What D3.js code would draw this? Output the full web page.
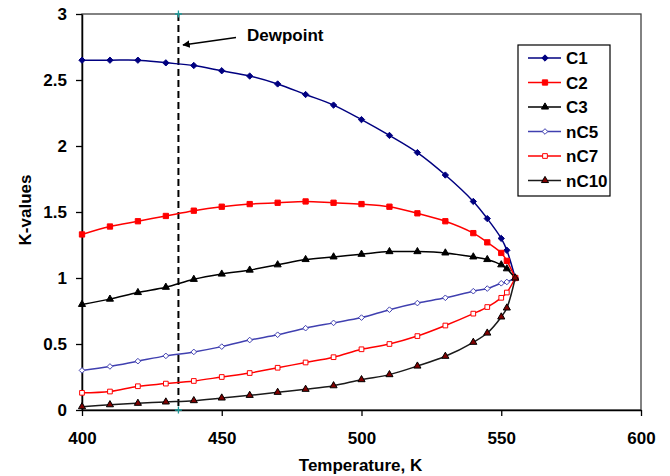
<!DOCTYPE html>
<html>
<head>
  <meta charset="utf-8">
  <title>K-values vs Temperature</title>
  <script src="https://d3js.org/d3.v7.min.js"></script>
  <style>
    body { margin: 0; background: #fff; }
    text { font-family: "Liberation Sans", Arial, sans-serif; font-weight: bold; font-size: 17px; fill: #000; }
  </style>
</head>
<body>
  <script>
    // data
    const temps = [400, 410, 420, 430, 440, 450, 460, 470, 480, 490, 500, 510, 520, 530, 540, 545, 550, 552, 555];
    const c1   = [2.65, 2.65, 2.65, 2.63, 2.61, 2.57, 2.53, 2.47, 2.39, 2.31, 2.20, 2.08, 1.95, 1.78, 1.58, 1.45, 1.30, 1.21, 1.00];
    const c2   = [1.33, 1.39, 1.43, 1.47, 1.51, 1.54, 1.56, 1.57, 1.58, 1.57, 1.56, 1.54, 1.49, 1.43, 1.34, 1.27, 1.19, 1.13, 1.00];
    const c3   = [0.80, 0.84, 0.89, 0.93, 0.99, 1.03, 1.06, 1.10, 1.14, 1.16, 1.18, 1.20, 1.20, 1.19, 1.16, 1.14, 1.10, 1.07, 1.00];
    const nc5  = [0.30, 0.33, 0.37, 0.41, 0.44, 0.48, 0.53, 0.57, 0.62, 0.66, 0.70, 0.76, 0.81, 0.85, 0.90, 0.92, 0.96, 0.97, 1.00];
    const nc7  = [0.13, 0.14, 0.18, 0.20, 0.22, 0.25, 0.28, 0.32, 0.36, 0.40, 0.46, 0.50, 0.56, 0.64, 0.73, 0.78, 0.85, 0.89, 1.00];
    const nc10 = [0.025, 0.04, 0.051, 0.061, 0.071, 0.091, 0.111, 0.134, 0.157, 0.184, 0.23, 0.268, 0.333, 0.407, 0.513, 0.583, 0.705, 0.773, 1.00];
    const seriesNames = ["C1", "C2", "C3", "nC5", "nC7", "nC10"];
    const xTicks = [400, 450, 500, 550, 600];
    const yTicks = [0, 0.5, 1, 1.5, 2, 2.5, 3];
    const dewpointT = 434.5;

    const W = 670, H = 476;
    const plot = {left: 82, right: 641, top: 14, bottom: 410};

    const svg = d3.select("body").append("svg")
      .attr("width", W).attr("height", H);

    const x = d3.scaleLinear().domain([400, 600]).range([plot.left, plot.right]);
    const y = d3.scaleLinear().domain([0, 3]).range([plot.bottom, plot.top]);

    // excel-like square diamond
    const diamond = {
      draw(ctx, size) {
        const r = Math.sqrt(size / 2);
        ctx.moveTo(0, -r); ctx.lineTo(r, 0); ctx.lineTo(0, r); ctx.lineTo(-r, 0); ctx.closePath();
      }
    };

    const styles = {
      C1:   {vals: c1,   line: "#000080", sym: diamond,            size: 20, fill: "#000080", stroke: "#000080"},
      C2:   {vals: c2,   line: "#ff0000", sym: d3.symbolSquare,   size: 28, fill: "#ff0000", stroke: "#ff0000"},
      C3:   {vals: c3,   line: "#000000", sym: d3.symbolTriangle, size: 22, fill: "#000000", stroke: "#000000"},
      nC5:  {vals: nc5,  line: "#4040b0", sym: diamond,            size: 16, fill: "#ffffff", stroke: "#4040b0"},
      nC7:  {vals: nc7,  line: "#ff0000", sym: d3.symbolSquare,   size: 22, fill: "#ffffff", stroke: "#ff0000"},
      nC10: {vals: nc10, line: "#1a1a1a", sym: d3.symbolTriangle, size: 22, fill: "#800000", stroke: "#000000"}
    };

    // frame
    svg.append("rect")
      .attr("x", plot.left).attr("y", plot.top)
      .attr("width", plot.right - plot.left).attr("height", plot.bottom - plot.top)
      .attr("fill", "none").attr("stroke", "#404040").attr("stroke-width", 1.3);

    // axes
    const xAxis = svg.append("g")
      .attr("transform", `translate(0,${plot.bottom})`)
      .call(d3.axisBottom(x).tickValues(xTicks).tickSize(6).tickSizeOuter(0).tickFormat(d3.format("d")));
    xAxis.select(".domain").attr("stroke", "#000").attr("stroke-width", 1.5);
    xAxis.selectAll(".tick line").attr("stroke", "#000").attr("stroke-width", 1.3);
    xAxis.selectAll(".tick text").attr("y", 22).attr("dy", "0.71em").attr("font-size", null).attr("font-family", null);

    const yAxis = svg.append("g")
      .attr("transform", `translate(${plot.left},0)`)
      .call(d3.axisLeft(y).tickValues(yTicks).tickSize(6).tickSizeOuter(0).tickFormat(d => d));
    yAxis.select(".domain").attr("stroke", "#000").attr("stroke-width", 1.5);
    yAxis.selectAll(".tick line").attr("stroke", "#000").attr("stroke-width", 1.3);
    yAxis.selectAll(".tick text").attr("x", -15).attr("font-size", null).attr("font-family", null);

    // dewpoint
    svg.append("line")
      .attr("x1", x(dewpointT)).attr("x2", x(dewpointT))
      .attr("y1", plot.top).attr("y2", plot.bottom)
      .attr("stroke", "#000").attr("stroke-width", 2).attr("stroke-dasharray", "7,4");
    [plot.top, plot.bottom].forEach(py => {
      svg.append("path")
        .attr("transform", `translate(${x(dewpointT)},${py})`)
        .attr("d", d3.symbol(d3.symbolCross, 0)())
        .attr("d", `M-3.5,0H3.5M0,-3.5V3.5`)
        .attr("stroke", "#1a9a9a").attr("stroke-width", 1.3).attr("fill", "none");
    });

    svg.append("defs").append("marker")
      .attr("id", "arrow").attr("viewBox", "0 0 10 10")
      .attr("refX", 9).attr("refY", 5)
      .attr("markerWidth", 5).attr("markerHeight", 5)
      .attr("orient", "auto")
      .append("path").attr("d", "M0,0L10,5L0,10z").attr("fill", "#000");

    svg.append("line")
      .attr("x1", 236).attr("y1", 37.5).attr("x2", 183).attr("y2", 45)
      .attr("stroke", "#000").attr("stroke-width", 1.5)
      .attr("marker-end", "url(#arrow)");
    svg.append("text").attr("x", 247).attr("y", 41).text("Dewpoint");

    // series
    const line = d3.line()
      .x((d, i) => x(temps[i]))
      .y(d => y(d))
      .curve(d3.curveCatmullRom.alpha(0.5));

    seriesNames.forEach(name => {
      const s = styles[name];
      const g = svg.append("g");
      g.append("path")
        .attr("d", line(s.vals))
        .attr("fill", "none").attr("stroke", s.line).attr("stroke-width", 1.5);
      g.selectAll("path.pt")
        .data(s.vals)
        .join("path")
        .attr("class", "pt")
        .attr("transform", (d, i) => `translate(${x(temps[i])},${y(d)})`)
        .attr("d", d3.symbol(s.sym, s.size)())
        .attr("fill", s.fill).attr("stroke", s.stroke).attr("stroke-width", 1);
    });

    // axis titles
    svg.append("text")
      .attr("x", (plot.left + plot.right) / 2 - 1).attr("y", 471)
      .attr("text-anchor", "middle")
      .text("Temperature, K");
    svg.append("text")
      .attr("transform", `translate(31,${(plot.top + plot.bottom) / 2 - 2}) rotate(-90)`)
      .attr("text-anchor", "middle")
      .text("K-values");

    // legend
    const legend = svg.append("g");
    legend.append("rect")
      .attr("x", 518).attr("y", 45).attr("width", 92).attr("height", 151)
      .attr("fill", "#fff").attr("stroke", "#000").attr("stroke-width", 1.2);
    seriesNames.forEach((name, i) => {
      const s = styles[name];
      const ly = 58 + i * 24.5;
      legend.append("line")
        .attr("x1", 528).attr("x2", 561).attr("y1", ly).attr("y2", ly)
        .attr("stroke", s.line).attr("stroke-width", 1.5);
      legend.append("path")
        .attr("transform", `translate(545,${ly})`)
        .attr("d", d3.symbol(s.sym, s.size)())
        .attr("fill", s.fill).attr("stroke", s.stroke).attr("stroke-width", 1);
      legend.append("text")
        .attr("x", 566).attr("y", ly).attr("dy", "0.36em")
        .text(name);
    });
  </script>
</body>
</html>
